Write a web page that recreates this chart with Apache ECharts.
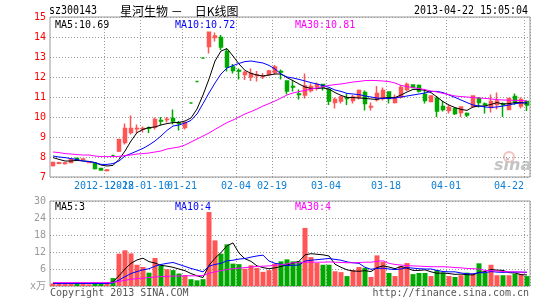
<!DOCTYPE html>
<html><head><meta charset="utf-8">
<script src="https://cdn.jsdelivr.net/npm/echarts@6/dist/echarts.min.js"></script>
<style>html,body{margin:0;padding:0;background:#fff}#c{width:545px;height:300px}</style>
</head><body><div id="c"></div>
<script>
const dates = ['2012-12-17','2012-12-18','2012-12-19','2012-12-20','2012-12-21','2012-12-24','2012-12-25','2012-12-26','2012-12-27','2012-12-28','2012-12-31','2013-01-04','2013-01-07','2013-01-08','2013-01-09','2013-01-10','2013-01-11','2013-01-14','2013-01-15','2013-01-16','2013-01-17','2013-01-18','2013-01-21','2013-01-23','2013-01-24','2013-01-25','2013-01-28','2013-01-29','2013-01-30','2013-01-31','2013-02-01','2013-02-04','2013-02-05','2013-02-06','2013-02-07','2013-02-08','2013-02-18','2013-02-19','2013-02-20','2013-02-21','2013-02-22','2013-02-25','2013-02-26','2013-02-27','2013-02-28','2013-03-01','2013-03-04','2013-03-05','2013-03-06','2013-03-07','2013-03-08','2013-03-11','2013-03-12','2013-03-13','2013-03-14','2013-03-15','2013-03-18','2013-03-19','2013-03-20','2013-03-21','2013-03-22','2013-03-25','2013-03-26','2013-03-27','2013-03-28','2013-03-29','2013-04-01','2013-04-02','2013-04-03','2013-04-08','2013-04-09','2013-04-10','2013-04-11','2013-04-12','2013-04-15','2013-04-16','2013-04-17','2013-04-18','2013-04-19','2013-04-22'];

const opens = [7.58,7.69,7.68,7.72,7.92,7.88,7.72,7.67,7.42,7.33,
8.08,8.30,8.72,9.22,9.41,9.40,9.46,9.50,9.82,9.87,
9.92,9.70,9.47,10.70,11.77,12.95,13.52,13.97,13.97,13.27,
12.50,12.32,12.13,12.00,12.08,12.03,12.13,12.22,12.27,11.80,
11.52,11.15,11.10,11.33,11.52,11.63,11.38,10.72,10.80,10.95,
10.83,10.97,11.22,10.50,10.88,10.93,11.25,10.72,11.00,11.38,
11.60,11.58,11.13,10.77,10.93,10.52,10.33,10.43,10.22,10.17,
10.52,10.93,10.65,10.47,10.63,10.65,10.38,11.02,10.55,10.77];
const closes = [7.72,7.71,7.70,7.87,7.88,7.90,7.74,7.43,7.35,7.35,
8.08,8.88,9.43,9.43,9.43,9.42,9.44,9.87,9.80,9.89,
9.80,9.68,9.73,10.70,11.77,12.95,14.24,14.05,13.50,12.50,
12.33,12.30,12.22,12.18,12.10,12.05,12.30,12.50,12.25,11.30,
11.50,11.13,11.55,11.52,11.63,11.50,10.80,10.88,11.00,10.93,
11.00,11.33,10.67,10.52,11.17,11.33,10.93,10.97,11.47,11.63,
11.47,11.30,10.83,11.05,10.30,10.38,10.47,10.18,10.50,10.10,
11.05,10.72,10.63,10.77,10.80,10.63,10.93,10.77,10.88,10.60];
const lows = [7.53,7.64,7.62,7.70,7.82,7.84,7.70,7.38,7.32,7.28,
8.08,8.25,8.63,9.13,9.17,9.22,9.20,9.38,9.60,9.72,
9.63,9.33,9.38,10.70,11.77,12.95,13.18,13.77,13.35,12.28,
12.17,11.88,11.85,11.80,11.77,11.90,12.05,12.13,11.88,11.13,
11.27,10.88,10.93,11.22,11.33,11.33,10.60,10.43,10.67,10.60,
10.67,10.88,10.33,10.33,10.77,10.83,10.67,10.67,10.93,11.30,
11.45,11.22,10.67,10.75,10.00,10.27,10.17,10.10,10.00,10.00,
10.47,10.47,10.17,10.22,10.38,10.00,10.35,10.60,10.43,10.30];
const highs = [7.73,7.76,7.75,7.90,7.97,7.94,7.76,7.68,7.44,7.40,
8.08,8.89,9.67,10.08,9.63,9.52,9.53,9.97,10.00,10.00,
10.38,9.80,9.75,10.70,11.77,12.95,14.24,14.22,14.10,13.43,
12.65,12.43,12.33,12.43,12.30,12.20,12.35,12.60,12.38,11.82,
11.83,11.38,12.17,11.67,11.72,11.65,11.40,10.97,11.05,11.17,
11.10,11.38,11.33,10.72,11.55,11.47,11.28,11.13,11.60,11.72,
11.62,11.63,11.38,11.07,11.05,10.80,10.60,10.45,10.52,10.22,
11.07,11.00,10.72,11.13,11.22,10.72,10.95,11.17,10.97,10.80];

const ma5 = [7.97,7.88,7.80,7.80,7.83,7.80,7.78,7.72,7.60,7.55,
7.58,7.88,8.30,8.80,9.22,9.38,9.47,9.50,9.60,9.67,
9.72,9.73,9.80,9.95,10.40,11.10,11.90,12.80,13.30,13.42,
13.05,12.65,12.33,12.18,12.10,12.05,12.10,12.15,12.15,11.97,
11.82,11.65,11.50,11.43,11.43,11.45,11.40,11.22,11.08,10.98,
10.97,10.95,10.93,10.90,10.88,10.95,10.97,10.97,11.10,11.25,
11.38,11.38,11.33,11.22,11.00,10.77,10.60,10.47,10.38,10.33,
10.50,10.55,10.55,10.63,10.72,10.65,10.67,10.72,10.72,10.69];
const ma10 = [8.05,8.00,7.97,7.92,7.87,7.80,7.77,7.72,7.63,7.63,
7.67,7.80,8.05,8.17,8.30,8.43,8.60,8.80,9.05,9.33,
9.55,9.60,9.70,9.83,10.15,10.67,11.20,11.70,12.15,12.45,
12.57,12.68,12.77,12.80,12.75,12.70,12.58,12.40,12.15,12.00,
11.95,11.88,11.80,11.72,11.65,11.57,11.48,11.35,11.28,11.18,
11.15,11.12,11.05,11.00,10.95,10.93,10.93,10.95,11.00,11.05,
11.10,11.15,11.20,11.28,11.28,11.22,11.10,10.98,10.85,10.72,
10.60,10.55,10.50,10.48,10.50,10.55,10.60,10.67,10.70,10.72];
const ma30 = [8.25,8.22,8.17,8.15,8.12,8.10,8.10,8.05,8.02,8.02,
8.02,8.03,8.08,8.10,8.15,8.17,8.20,8.25,8.30,8.40,
8.45,8.50,8.60,8.75,8.90,9.05,9.20,9.38,9.55,9.72,
9.85,10.00,10.15,10.27,10.40,10.55,10.67,10.80,10.95,11.10,
11.20,11.27,11.33,11.40,11.45,11.52,11.58,11.62,11.65,11.70,
11.75,11.78,11.82,11.83,11.82,11.80,11.77,11.70,11.58,11.52,
11.47,11.42,11.37,11.30,11.25,11.18,11.12,11.05,11.02,11.00,
10.97,10.95,10.93,10.90,10.87,10.85,10.84,10.83,10.82,10.81];

const volumes = [0.9,0.8,0.8,1.0,0.8,0.7,0.6,1.2,1.0,0.8,
2.8,11.4,12.6,11.5,7.5,6.7,4.7,9.9,7.3,5.9,
5.6,4.4,3.8,2.4,2.0,2.4,26.1,16.1,11.4,14.7,
7.9,7.7,6.1,7.3,6.4,5.0,5.6,7.9,8.7,9.4,
8.7,8.7,20.5,10.2,8.1,7.5,7.5,5.2,4.9,3.5,
5.6,6.7,6.4,3.2,10.8,8.5,4.6,3.5,7.0,8.1,
4.2,4.6,4.6,3.5,5.6,4.7,3.5,3.2,3.8,4.7,
4.3,8.0,4.6,7.5,3.8,3.8,3.8,4.3,4.3,3.5];
const vma5 = [0.9,0.9,0.9,0.9,0.9,0.9,0.9,0.9,0.9,0.9,
1.5,3.6,6.0,8.0,9.2,9.8,8.6,8.1,7.3,7.0,
6.6,6.0,5.4,4.4,3.6,3.0,7.3,9.8,11.8,14.2,
15.2,11.6,9.6,8.7,7.1,6.5,6.1,6.4,6.9,7.4,
8.1,8.7,11.0,11.4,11.2,11.0,10.6,7.7,6.6,5.7,
5.3,5.2,5.4,5.1,6.5,7.1,6.7,6.1,6.9,6.3,
5.5,5.5,5.7,5.0,4.5,4.6,4.4,4.1,4.2,4.0,
3.9,4.8,5.1,5.8,5.6,5.5,4.7,4.6,4.0,3.9];
const vma10 = [0.9,0.9,0.9,0.9,0.9,0.9,0.9,0.9,0.9,0.9,
1.1,2.1,3.3,4.4,5.1,5.7,6.1,7.0,7.6,8.0,
8.3,7.6,6.9,6.2,5.6,5.0,7.0,7.6,8.0,8.9,
9.1,9.5,9.7,10.2,10.6,10.9,8.8,8.0,7.7,7.2,
7.3,7.4,8.8,9.1,9.3,9.5,9.7,9.4,9.1,8.5,
8.2,8.0,6.6,5.9,6.2,6.3,6.0,5.8,6.0,6.5,
6.3,6.1,6.0,6.0,5.5,5.1,5.0,5.0,4.6,4.3,
4.3,4.7,4.7,5.1,4.9,4.8,4.9,4.9,4.9,4.8];
const vma30 = [1.2,1.2,1.2,1.2,1.2,1.2,1.2,1.2,1.2,1.2,
1.3,1.6,2.0,2.4,2.6,2.8,3.0,3.2,3.3,3.4,
3.5,3.5,3.6,3.6,3.6,3.7,4.5,5.0,5.4,5.8,
6.1,6.3,6.5,6.7,6.9,7.0,7.1,7.3,7.5,7.8,
8.2,8.2,8.4,8.4,8.4,8.4,8.5,8.4,8.3,8.2,
8.2,8.3,8.4,8.4,8.7,8.9,8.0,7.6,7.4,7.2,
7.1,7.0,6.9,6.8,6.8,6.8,6.7,6.5,6.4,6.2,
6.1,6.0,5.5,5.4,5.3,5.1,5.0,5.0,4.9,4.9];

const tickDates = ['2012-12-28','2013-01-10','2013-01-21','2013-02-04','2013-02-19','2013-03-04','2013-03-18','2013-04-01','2013-04-22'];
const tickLabels = ['2012-12-28','2012-01-10','01-21','02-04','02-19','03-04','03-18','04-01','04-22'];

const stockCode = 'sz300143';
const titleText = '星河生物 －\u3000日K线图';
const timeText = '2013-04-22 15:05:04';
const copyText = 'Copyright 2013 SINA.COM';
const urlText = 'http://finance.sina.com.cn';

const MONO = "'DejaVu Sans Mono','Noto Sans CJK SC',monospace";
const RED = '#ff5555', GREEN = '#00a800', LBLUE = '#0f7fd4';
const GRIDC = '#999999';
const isTick = (i, v) => tickDates.indexOf(v) >= 0;
// labels split over two overlapping axes so that the overlapping pair both show
const isTickA = (i, v) => { const k = tickDates.indexOf(v); return k >= 0 && k % 2 === 0; };
const isTickB = (i, v) => { const k = tickDates.indexOf(v); return k >= 0 && k % 2 === 1; };
const dotted = {show: true, lineStyle: {color: GRIDC, width: 1, type: [1, 2]}};
const vsplit = {show: true, interval: isTick, lineStyle: {color: GRIDC, width: 1, type: [1, 2]}};
const labelFmt = v => {
  const k = tickDates.indexOf(v);
  return (k === tickDates.length - 1 ? '{e|' : '{c|') + tickLabels[k] + '}';
};
const labelRich = {c: {padding: [0, 6, 0, 0], color: LBLUE, fontFamily: MONO, fontSize: 10},
                   e: {padding: [0, 36, 0, 0], color: LBLUE, fontFamily: MONO, fontSize: 10}};
const mkLabel = fn => ({show: true, interval: fn, margin: 4, color: LBLUE, fontFamily: MONO, fontSize: 10,
  showMinLabel: true, showMaxLabel: true, hideOverlap: false, formatter: labelFmt, rich: labelRich});

const chart = echarts.init(document.getElementById('c'), null, {renderer: 'canvas'});
const last = a => a[a.length - 1];

const option = {
  animation: false,
  backgroundColor: '#fff',
  grid: [
    {left: 50, top: 17, width: 480, height: 160, show: true, borderColor: '#999', borderWidth: 1, outerBoundsMode: 'none', containLabel: false},
    {left: 50, top: 201, width: 480, height: 85, show: true, borderColor: '#999', borderWidth: 1, outerBoundsMode: 'none', containLabel: false}
  ],
  xAxis: [
    {type: 'category', gridIndex: 0, position: 'bottom', data: dates, boundaryGap: true,
     axisLine: {show: false}, axisTick: {show: false}, axisLabel: mkLabel(isTickA), splitLine: vsplit},
    {type: 'category', gridIndex: 1, position: 'bottom', data: dates, boundaryGap: true,
     axisLine: {show: false}, axisTick: {show: false}, axisLabel: {show: false}, splitLine: vsplit},
    {type: 'category', gridIndex: 0, position: 'bottom', offset: 0, data: dates, boundaryGap: true,
     axisLine: {show: false}, axisTick: {show: false}, axisLabel: mkLabel(isTickB), splitLine: {show: false}}
  ],
  yAxis: [
    {type: 'value', gridIndex: 0, min: 7, max: 15, interval: 1,
     axisLine: {show: false}, axisTick: {show: false},
     axisLabel: {color: '#ff0000', fontFamily: MONO, fontSize: 10, margin: 4, showMinLabel: true, showMaxLabel: true},
     splitLine: dotted},
    {type: 'value', gridIndex: 1, min: 0, max: 30, interval: 6,
     axisLine: {show: false}, axisTick: {show: false},
     axisLabel: {color: '#999', fontFamily: MONO, fontSize: 10, margin: 4, showMinLabel: true, showMaxLabel: true,
       formatter: v => v === 0 ? 'x万' : String(v)},
     splitLine: dotted}
  ],
  series: [
    {type: 'candlestick', xAxisIndex: 0, yAxisIndex: 0, barWidth: 4,
     data: dates.map((d, i) => [opens[i], closes[i], lows[i], highs[i]]),
     itemStyle: {color: RED, color0: GREEN, borderColor: RED, borderColor0: GREEN, borderColorDoji: GREEN, borderWidth: 1.5}},
    {type: 'line', xAxisIndex: 0, yAxisIndex: 0, data: ma5, symbol: 'none', lineStyle: {color: '#000', width: 1}},
    {type: 'line', xAxisIndex: 0, yAxisIndex: 0, data: ma10, symbol: 'none', lineStyle: {color: '#0000ff', width: 1}},
    {type: 'line', xAxisIndex: 0, yAxisIndex: 0, data: ma30, symbol: 'none', lineStyle: {color: '#ff00ff', width: 1}},
    {type: 'bar', xAxisIndex: 1, yAxisIndex: 1, barWidth: 5,
     data: volumes.map((v, i) => ({value: v, itemStyle: {color: closes[i] > opens[i] ? RED : GREEN}}))},
    {type: 'line', xAxisIndex: 1, yAxisIndex: 1, data: vma5, symbol: 'none', lineStyle: {color: '#000', width: 1}},
    {type: 'line', xAxisIndex: 1, yAxisIndex: 1, data: vma10, symbol: 'none', lineStyle: {color: '#0000ff', width: 1}},
    {type: 'line', xAxisIndex: 1, yAxisIndex: 1, data: vma30, symbol: 'none', lineStyle: {color: '#ff00ff', width: 1}}
  ],
  graphic: [
    {type: 'text', x: 49, y: 11, scaleX: 0.83, style: {text: stockCode, fill: '#000', font: "12px 'DejaVu Sans Mono'", textAlign: 'left', textVerticalAlign: 'middle'}},
    {type: 'text', x: 120, y: 11, style: {text: titleText, fill: '#000', font: "12px 'Noto Sans CJK SC'", textAlign: 'left', textVerticalAlign: 'middle'}},
    {type: 'text', x: 528, y: 11, scaleX: 0.83, style: {text: timeText, fill: '#000', font: "12px 'DejaVu Sans Mono'", textAlign: 'right', textVerticalAlign: 'middle'}},
    {type: 'text', x: 55, y: 25, style: {text: 'MA5:' + last(ma5).toFixed(2), fill: '#000', font: "10px 'DejaVu Sans Mono'", textVerticalAlign: 'middle'}},
    {type: 'text', x: 175, y: 25, style: {text: 'MA10:' + last(ma10).toFixed(2), fill: '#0000ff', font: "10px 'DejaVu Sans Mono'", textVerticalAlign: 'middle'}},
    {type: 'text', x: 295, y: 25, style: {text: 'MA30:' + last(ma30).toFixed(2), fill: '#ff00ff', font: "10px 'DejaVu Sans Mono'", textVerticalAlign: 'middle'}},
    {type: 'text', x: 55, y: 207, style: {text: 'MA5:' + Math.floor(last(vma5)), fill: '#000', font: "10px 'DejaVu Sans Mono'", textVerticalAlign: 'middle'}},
    {type: 'text', x: 175, y: 207, style: {text: 'MA10:' + Math.floor(last(vma10)), fill: '#0000ff', font: "10px 'DejaVu Sans Mono'", textVerticalAlign: 'middle'}},
    {type: 'text', x: 295, y: 207, style: {text: 'MA30:' + Math.floor(last(vma30)), fill: '#ff00ff', font: "10px 'DejaVu Sans Mono'", textVerticalAlign: 'middle'}},
    {type: 'text', x: 50, y: 293, style: {text: copyText, fill: '#555', font: "10px 'DejaVu Sans Mono'", textVerticalAlign: 'middle'}},
    {type: 'text', x: 529, y: 293, style: {text: urlText, fill: '#555', font: "10px 'DejaVu Sans Mono'", textAlign: 'right', textVerticalAlign: 'middle'}},
    {type: 'circle', shape: {cx: 509, cy: 157, r: 5}, style: {fill: 'none', stroke: '#f4c0c0', lineWidth: 2}},
    {type: 'text', x: 494, y: 166, style: {text: 'sina', fill: '#c4c4c4', font: "italic bold 16px 'DejaVu Sans'", textVerticalAlign: 'middle'}}
  ]
};
chart.setOption(option);
</script>
</body></html>
